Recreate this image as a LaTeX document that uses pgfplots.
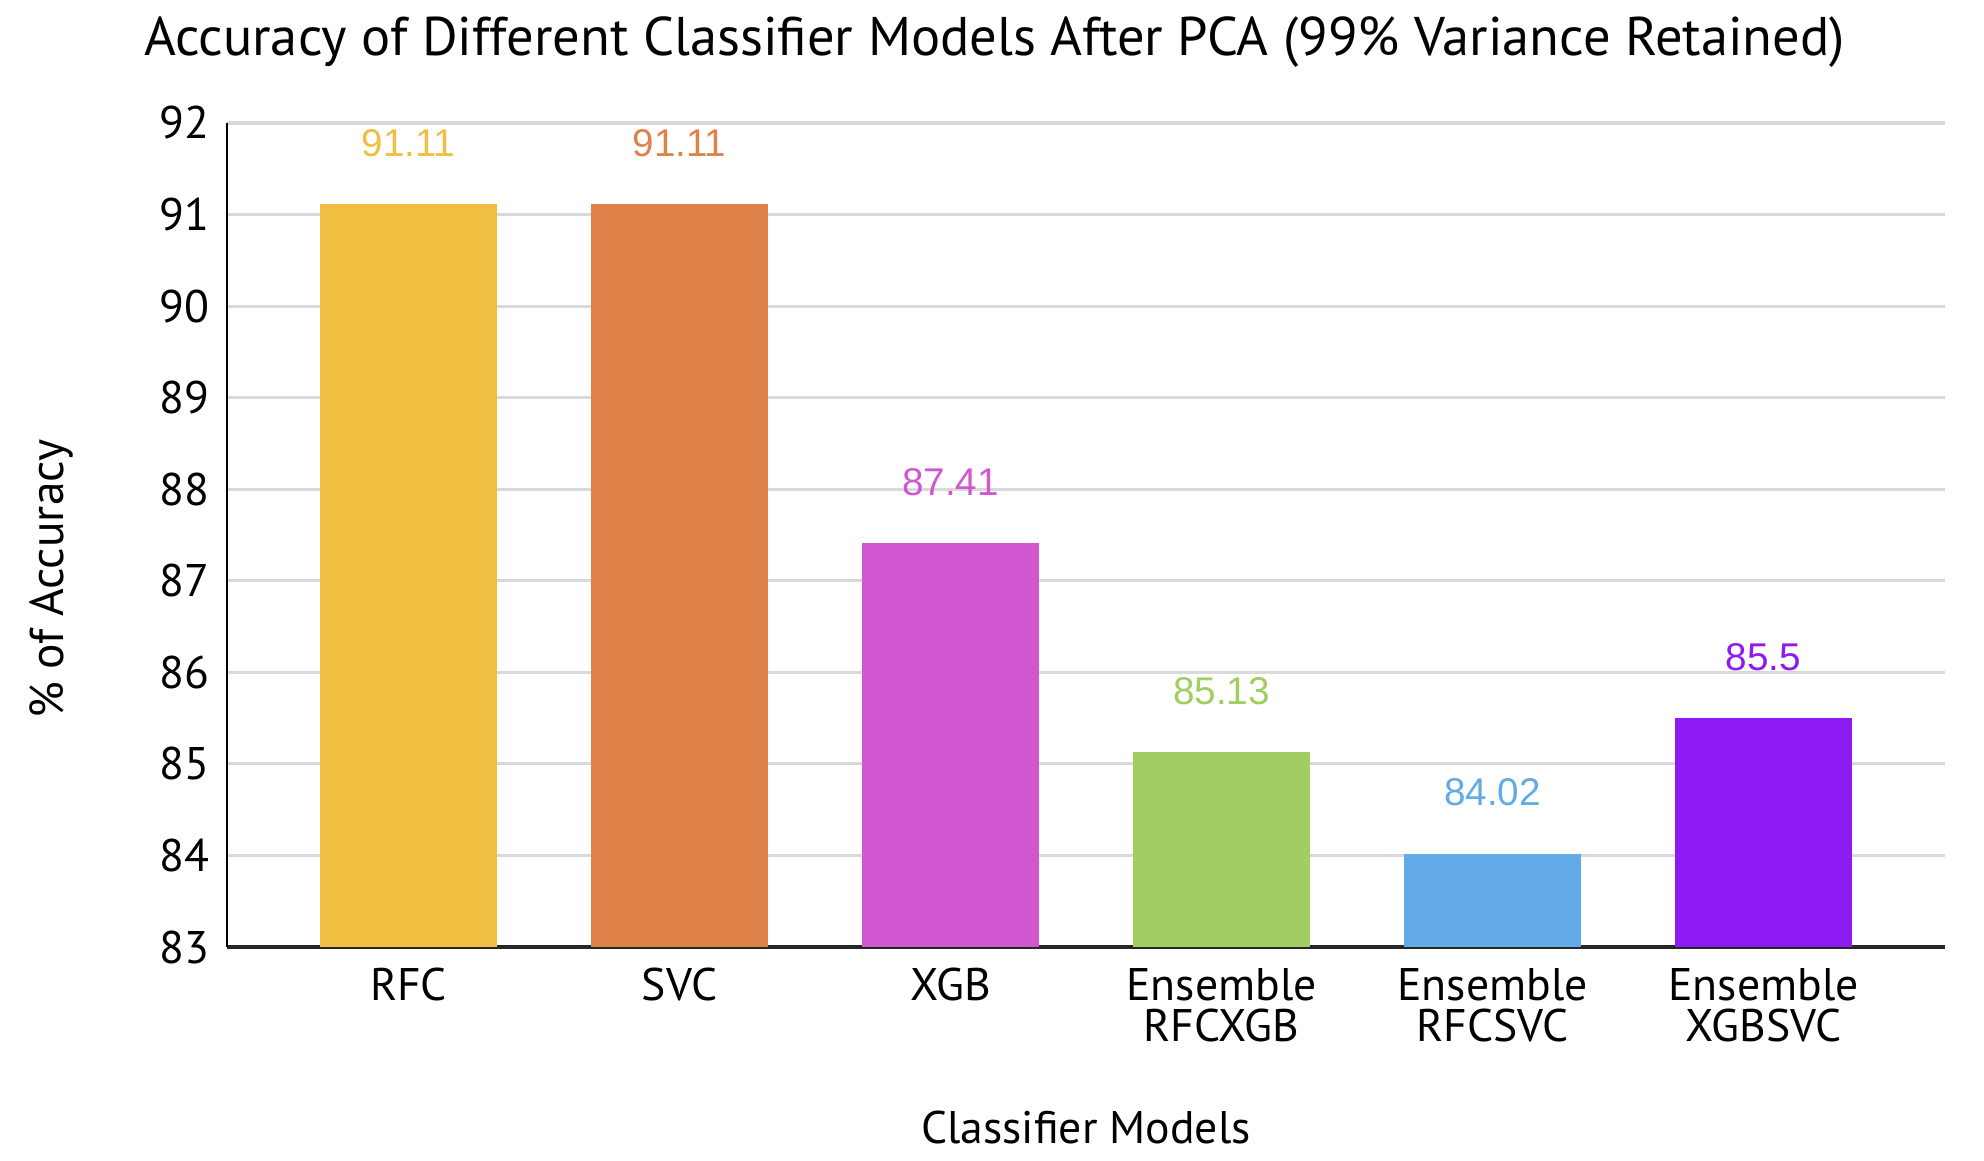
\documentclass[border=0pt]{standalone}
\usepackage{pgfplots}
\pgfplotsset{compat=1.18}
\usepackage{fontspec}
\setmainfont{PT Sans}
\newfontfamily\valfont{Liberation Sans}
\definecolor{cRFC}{HTML}{F0BE41}
\definecolor{cSVC}{HTML}{DF824A}
\definecolor{cXGB}{HTML}{D157D0}
\definecolor{cERX}{HTML}{A0CE62}
\definecolor{cERS}{HTML}{62ABE7}
\definecolor{cEXS}{HTML}{8E1AF3}
\definecolor{gridc}{HTML}{D9D9D9}
\begin{document}
\begin{tikzpicture}
\useasboundingbox (0,0) rectangle (198.4mm,116mm);
\begin{axis}[
  at={(22.7mm,21.3mm)}, anchor=south west,
  scale only axis, width=171.8mm, height=82.4mm,
  xmin=-0.67, xmax=5.67, ymin=83, ymax=92,
  ybar, bar width=17.7mm, bar shift=0pt,
  axis x line*=bottom, axis y line*=left,
  axis line style={-},
  x axis line style={line width=1.1pt, color=black!85},
  y axis line style={line width=0.8pt, color=black},
  ymajorgrids, major grid style={color=gridc, line width=0.9pt},
  major tick length=0pt,
  ytick={83,84,...,92},
  xtick={0,1,2,3,4,5},
  xticklabels={RFC,SVC,XGB,{Ensemble\\RFCXGB},{Ensemble\\RFCSVC},{Ensemble\\XGBSVC}},
  /pgf/number format/assume math mode=true,
  yticklabel style={font=\fontsize{13}{15}\selectfont, xshift=-0.5mm},
  xticklabel style={font=\fontsize{13}{11.6}\selectfont, align=center, anchor=north, yshift=-0.9mm},
  point meta=explicit symbolic,
  nodes near coords,
  every node near coord/.append style={font=\valfont\fontsize{11}{13}\selectfont, anchor=center, yshift=6.1mm},
  ylabel={\% of Accuracy},
  ylabel style={at={(axis description cs:-0.102,0.4466)}, anchor=center, font=\fontsize{13.5}{15}\selectfont},
  xlabel={Classifier Models},
  xlabel style={at={(axis description cs:0.5,-0.2379)}, anchor=base, font=\fontsize{13}{15}\selectfont},
  title={Accuracy of Different Classifier Models After PCA (99\% Variance Retained)},
  every axis title/.style={at={(axis description cs:0.4467,1.0825)}, anchor=base, font=\fontsize{15.5}{17}\selectfont},
]
\addplot[fill=cRFC, draw=none, every node near coord/.append style={text=cRFC}] coordinates {(0,91.11) [91.11]};
\addplot[fill=cSVC, draw=none, every node near coord/.append style={text=cSVC}] coordinates {(1,91.11) [91.11]};
\addplot[fill=cXGB, draw=none, every node near coord/.append style={text=cXGB}] coordinates {(2,87.41) [87.41]};
\addplot[fill=cERX, draw=none, every node near coord/.append style={text=cERX}] coordinates {(3,85.13) [85.13]};
\addplot[fill=cERS, draw=none, every node near coord/.append style={text=cERS}] coordinates {(4,84.02) [84.02]};
\addplot[fill=cEXS, draw=none, every node near coord/.append style={text=cEXS}] coordinates {(5,85.5) [85.5]};
\end{axis}
\end{tikzpicture}
\end{document}
